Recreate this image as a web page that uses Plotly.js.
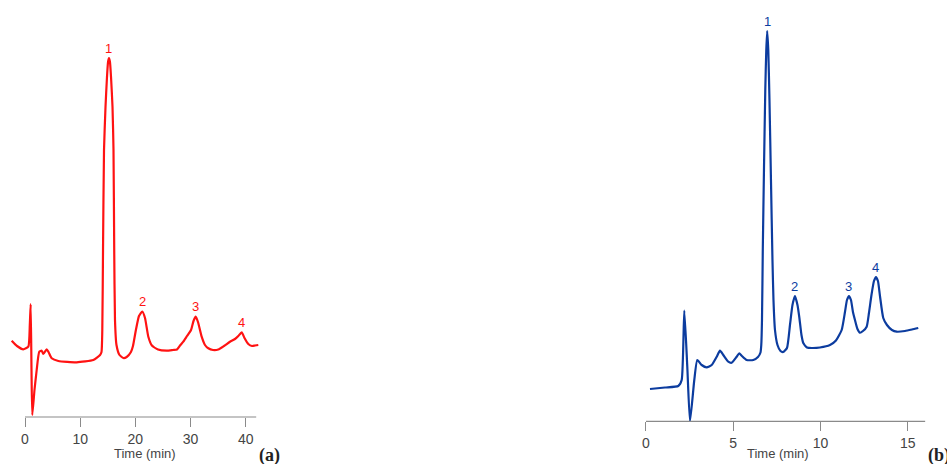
<!DOCTYPE html>
<html>
<head>
<meta charset="utf-8">
<script src="https://cdn.plot.ly/plotly-3.0.1.min.js"></script>
<style>html,body{margin:0;padding:0;background:#fff;}#chart{width:947px;height:464px;}</style>
</head>
<body>
<div id="chart"></div>
<script>
// Chromatogram (a): time (min) and detector signal (arbitrary units)
const timeA = [-2.41,-1.45,-0.31,0.6,0.87,1.03,1.18,1.32,1.72,2.12,2.59,3.03,3.32,3.93,4.26,4.84,6.04,9.37,12.38,13.6,
  13.865,14.01,14.14,14.32,14.59,14.86,15.05,15.22,15.4,15.59,15.86,16.04,16.17,16.31,16.58,17.13,17.82,18.43,
  19.2,19.57,20.1,20.66,21.26,21.75,22.35,23.0,24.1,25.68,26.82,27.55,28.1,28.69,29.36,30.09,30.54,30.94,31.35,
  32.02,32.62,33.22,34.07,35.03,36.07,37.15,38.06,38.66,39.27,39.78,40.47,41.14,41.69,42.28];
const signalA = [76.3,71,67.7,70.3,92,113,47,2,27,47,65.3,66.3,63,67.7,65,58.7,56,54.7,57,62,
  65,87,167,267,310,340,355,359,355,340,310,267,167,97,72,62,59,60,
  65,71,87,101,105.5,99,80.3,71.5,67.5,66.3,67,67.5,71.5,75.3,81,87,96,100.3,95,
  80.3,72,68.7,67,67.5,71,75.3,78,81,84.7,79,73,71,71.5,72];
const peakLabelsA = ['1','2','3','4'];
const peakTimesA = [15.22, 21.26, 30.94, 39.27];
const peakHeightsA = [359, 105.5, 100.3, 84.7];
const ticksA = [0, 10, 20, 30, 40];

// Chromatogram (b)
const timeB = [0.229,1.089,1.851,2.046,2.195,2.367,2.521,2.768,2.94,3.192,3.479,3.765,4.052,4.241,4.43,4.716,4.911,5.198,5.347,5.484,
  5.771,6.149,6.418,6.562,6.607,6.648,6.694,6.762,6.837,6.894,6.946,7.009,7.077,7.163,7.249,7.307,7.393,7.536,7.708,7.868,
  8.08,8.252,8.395,8.539,8.682,8.785,8.911,9.014,9.226,9.513,9.971,10.544,10.888,11.215,11.404,11.519,11.633,11.748,11.862,11.977,
  12.12,12.264,12.436,12.648,12.779,12.923,13.066,13.181,13.295,13.41,13.599,13.811,14.097,14.367,14.842,15.244,15.605];
const signalB = [32.3,33.8,35.3,41.3,110.6,54.6,0,41.3,61.3,56.3,54,56.3,64.6,70.6,66.3,59.6,58.6,64.6,68,65.6,
  61.3,61.3,64.3,68.8,76.3,101.3,171.3,251.3,331.3,371.3,390.3,371.3,321.3,241.3,161.3,121.3,91.3,76.3,70.3,69.3,
  73.3,96.3,116.3,125.3,116.3,104.3,86.3,78.3,73.8,73.3,73.8,76.3,80.8,91.3,109.3,121.3,125.3,121.3,109.3,101.3,
  92.3,88.6,90.3,94.6,108.3,126.3,140.3,144.3,140.3,125.3,103.3,96.3,91.3,89.6,90.3,91.8,93.3];
const peakLabelsB = ['1','2','3','4'];
const peakTimesB = [6.946, 8.539, 11.633, 13.181];
const peakHeightsB = [390.3, 125.3, 125.3, 144.3];
const ticksB = [0, 5, 10, 15];

const axisTitle = 'Time (min)';
const panelLabels = ['(a)', '(b)'];

const red = '#ff1212';
const blue = '#0c3c9f';
const axisGray = '#8a8a8a';
const textGray = '#444444';

const traces = [
  {x: timeA, y: signalA, xaxis: 'x', yaxis: 'y', type: 'scatter', mode: 'lines',
   line: {color: red, width: 2.2, shape: 'spline', smoothing: 0.5}, hoverinfo: 'skip'},
  {x: timeB, y: signalB, xaxis: 'x2', yaxis: 'y2', type: 'scatter', mode: 'lines',
   line: {color: blue, width: 2.2, shape: 'spline', smoothing: 0.5}, hoverinfo: 'skip'}
];

const annotations = [];
peakLabelsA.forEach((t, i) => annotations.push({
  x: peakTimesA[i], y: peakHeightsA[i], xref: 'x', yref: 'y', text: t, showarrow: false,
  yanchor: 'middle', yshift: 10, font: {family: 'Liberation Sans, Arial', size: 13, color: red}
}));
peakLabelsB.forEach((t, i) => annotations.push({
  x: peakTimesB[i], y: peakHeightsB[i], xref: 'x2', yref: 'y2', text: t, showarrow: false,
  yanchor: 'middle', yshift: 10, font: {family: 'Liberation Sans, Arial', size: 13, color: blue}
}));
annotations.push({x: 145/947, y: (464-453)/464, xref: 'paper', yref: 'paper', text: axisTitle, showarrow: false,
  xanchor: 'center', yanchor: 'middle', font: {family: 'Liberation Sans, Arial', size: 13, color: textGray}});
annotations.push({x: 777.5/947, y: (464-453)/464, xref: 'paper', yref: 'paper', text: axisTitle, showarrow: false,
  xanchor: 'center', yanchor: 'middle', font: {family: 'Liberation Sans, Arial', size: 13, color: textGray}});
annotations.push({x: 269/947, y: (464-455)/464, xref: 'paper', yref: 'paper', text: '<b>' + panelLabels[0] + '</b>', showarrow: false,
  xanchor: 'center', yanchor: 'middle', font: {family: 'Liberation Serif, serif', size: 18, color: '#222'}});
annotations.push({x: 926/947, y: (464-455)/464, xref: 'paper', yref: 'paper', text: '<b>' + panelLabels[1] + '</b>', showarrow: false,
  xanchor: 'left', yanchor: 'middle', font: {family: 'Liberation Serif, serif', size: 18, color: '#222'}});

const xCommon = {showgrid: false, zeroline: false, showline: false, ticks: 'outside', ticklen: 9,
  tickwidth: 1, tickcolor: axisGray, tickfont: {family: 'Liberation Sans, Arial', size: 14, color: textGray}};
const yCommon = {showgrid: false, zeroline: false, showline: false, showticklabels: false, ticks: ''};

const layout = {
  width: 947, height: 464,
  margin: {l: 0, r: 0, t: 0, b: 0},
  paper_bgcolor: '#fff', plot_bgcolor: '#fff',
  showlegend: false,
  xaxis: Object.assign({}, xCommon, {domain: [10.65/947, 259.5/947], range: [-2.6, 42.5], tickvals: ticksA, anchor: 'y'}),
  yaxis: Object.assign({}, yCommon, {domain: [(464-417)/464, 1], range: [0, 417], anchor: 'x'}),
  xaxis2: Object.assign({}, xCommon, {domain: [644.25/947, 926.9/947], range: [-0.1, 16.1], tickvals: ticksB, anchor: 'y2'}),
  yaxis2: Object.assign({}, yCommon, {domain: [(464-421.3)/464, 1], range: [0, 421.3], anchor: 'x2'}),
  shapes: [
    {type: 'line', xref: 'x', yref: 'y domain', x0: ticksA[0], x1: 41.9, y0: 0, y1: 0, line: {color: axisGray, width: 1.2}},
    {type: 'line', xref: 'x2', yref: 'y2 domain', x0: ticksB[0], x1: 16.0, y0: 0, y1: 0, line: {color: axisGray, width: 1.2}}
  ],
  annotations: annotations
};

Plotly.newPlot('chart', traces, layout, {staticPlot: true, displayModeBar: false});
</script>
</body>
</html>
